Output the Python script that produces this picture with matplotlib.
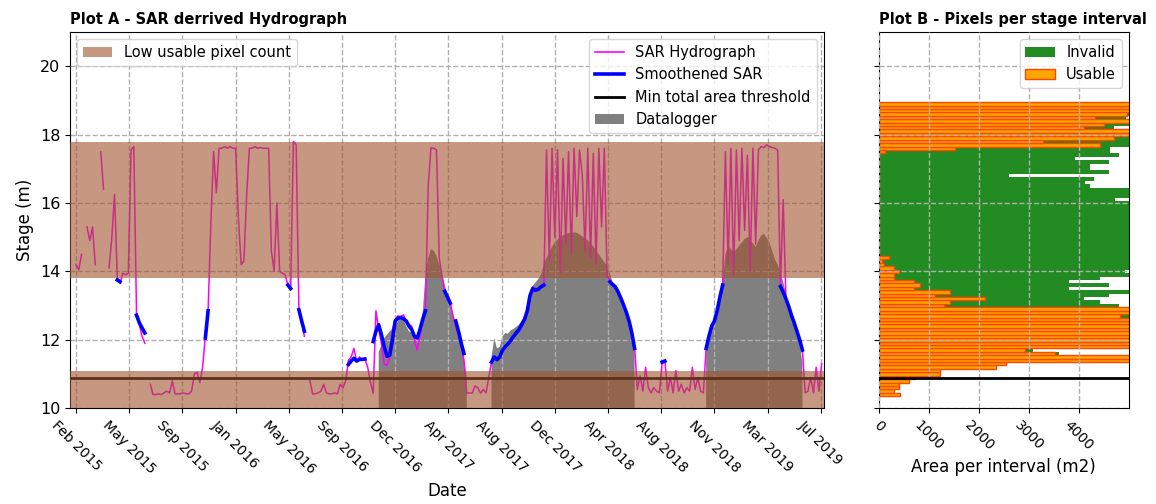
import numpy as np
import pandas as pd
import matplotlib
matplotlib.use("Agg")
import matplotlib.pyplot as plt
import matplotlib.dates as mdates
from matplotlib.lines import Line2D
from matplotlib.patches import Patch

nan = np.nan

# ---------------------------------------------------------------------------
# SAR acquisitions (6-day repeat cycle), stage in metres
# ---------------------------------------------------------------------------
sar_start = "2015-02-03"
sar_step_days = 6

sar_stage = [
    14.2, 14.05, 14.5, nan, 15.3, 14.9, 15.3, 14.2, nan, 17.5,
    16.4, nan, 14.1, 14.97, 16.25, 13.8, 13.65, 13.95, 13.9, 13.95,
    17.55, 17.65, 12.7, 12.45, 12.1, 11.9, nan, 10.7, 10.4, 10.4,
    10.42, 10.4, 10.45, 10.5, 10.45, 10.8, 10.42, 10.42, 10.42, 10.45,
    10.42, 10.42, 10.5, 11.0, 11.05, 10.75, 11.2, 12.1, 12.85, 15.4,
    17.5, 16.3, 17.6, 17.6, 17.65, 17.6, 17.65, 17.6, 17.6, 15.6,
    14.2, 14.3, 16.2, 17.6, 17.6, 17.65, 17.6, 17.62, 17.6, 17.6,
    17.6, 14.6, 14.0, 16.0, 14.0, 13.95, 13.9, 13.6, 13.45, 17.8,
    17.7, 12.9, 12.55, 12.1, nan, 10.8, 10.42, 10.42, 10.45, 10.5,
    10.7, 10.45, 10.42, 10.42, 10.45, 10.42, 10.7, 10.6, 10.8, 11.4,
    11.5, 11.75, 11.35, 11.5, 11.4, 11.45, 11.2, 10.75, 10.44, 12.85,
    12.3, 11.9, 11.3, 11.25, 11.5, 12.3, 12.6, 12.7, 12.68, 12.73,
    12.55, 12.45, 12.4, 12.0, 11.7, 12.1, 12.6, 12.9, 16.5, 17.62,
    17.6, 17.55, 14.4, 13.85, 13.45, 13.3, 13.1, 12.7, 12.4, 12.15,
    11.85, 11.4, 10.44, 10.45, 10.44, 10.65, 10.6, 10.44, 10.55, 10.45,
    10.9, 11.35, 11.5, 11.45, 11.5, 11.7, 11.8, 11.85, 12.0, 12.1,
    12.2, 12.3, 12.45, 12.6, 12.8, 13.3, 13.55, 13.4, 13.5, 13.55,
    13.6, 17.55, 14.3, 17.6, 15.0, 17.55, 13.95, 17.3, 14.8, 17.5,
    14.5, 17.6, 15.6, 17.55, 16.8, 14.6, 17.6, 14.4, 17.45, 14.2,
    17.6, 15.3, 17.6, 13.85, 13.75, 13.65, 13.5, 13.4, 13.2, 13.0,
    12.8, 12.55, 12.2, 11.8, 10.55, 10.95, 10.5, 11.2, 10.6, 10.45,
    10.6, 10.5, 10.45, 11.3, 11.4, 10.5, 10.9, 10.45, 11.1, 10.5,
    10.7, 10.45, 10.6, 10.5, 11.2, 10.55, 10.9, 10.5, 10.45, 11.75,
    12.1, 12.4, 12.55, 12.85, 13.2, 13.55, 17.5, 14.2, 17.6, 13.9,
    17.55, 14.9, 17.6, 15.2, 17.4, 14.0, 17.6, 14.8, 17.55, 17.65,
    17.62, 17.7, 17.65, 17.62, 17.6, 17.55, 13.55, 16.1, 13.2, 12.95,
    12.75, 12.5, 12.25, 12.0, 11.7, 10.45, 10.5, 10.9, 10.45, 11.2,
    10.5, 11.3,
]

# Smoothed SAR stage: (index of first acquisition, values)
smooth_segments = [
    (15, [13.75, 13.7]),
    (22, [12.72, 12.5, 12.35, 12.2]),
    (47, [12.05, 12.85]),
    (77, [13.6, 13.5]),
    (81, [12.88, 12.55, 12.25]),
    (99, [11.28, 11.38, 11.46, 11.38, 11.43, 11.43, 11.44]),
    (108, [11.95, 12.25, 12.44, 12.15, 11.8, 11.52, 11.55, 12.0, 12.55, 12.63,
           12.65, 12.62, 12.55, 12.4, 12.3, 12.1, 12.05, 12.3, 12.6, 12.85]),
    (134, [13.42, 13.25, 13.07]),
    (138, [12.55, 12.25, 11.9, 11.6]),
    (151, [11.35, 11.5, 11.42, 11.5, 11.7, 11.8, 11.88, 11.98, 12.1, 12.2,
           12.3, 12.45, 12.6, 12.85, 13.3, 13.5, 13.45, 13.48, 13.55, 13.6]),
    (194, [13.7, 13.62, 13.55, 13.4, 13.22, 13.02, 12.8, 12.55, 12.2, 11.75]),
    (213, [11.35, 11.38]),
    (229, [11.75, 12.1, 12.4, 12.55, 12.85, 13.25, 13.6]),
    (256, [13.56, 13.4, 13.2, 12.98, 12.72, 12.5, 12.25, 12.0, 11.7]),
]

# Datalogger stage sampled on the same dates: (index of first sample, values)
logger_segments = [
    (110, [11.65, 11.85, 12.05, 12.15, 12.25, 12.3, 12.4, 12.55, 12.65, 12.6,
           12.4, 12.25, 12.2, 12.05, 11.95, 12.2, 12.8, 13.9, 14.4, 14.65,
           14.6, 14.45, 14.2, 13.95, 13.6, 13.3, 13.05, 12.75, 12.5, 12.2,
           11.8, 11.4, 10.9]),
    (151, [11.5, 12.05, 11.75, 11.8, 12.1, 12.2, 12.18, 12.28, 12.32, 12.38,
           12.45, 12.55, 12.68, 12.85, 13.3, 13.58, 13.68, 13.78, 13.9, 14.2,
           14.4, 14.55, 14.72, 14.85, 14.93, 15.0, 15.05, 15.1, 15.12, 15.13,
           15.14, 15.13, 15.08, 15.03, 14.97, 14.9, 14.82, 14.73, 14.62, 14.5,
           14.38, 14.27, 14.15, 13.95, 13.68, 13.5, 13.33, 13.15, 12.9, 12.7,
           12.45, 12.1, 11.8]),
    (229, [11.8, 12.2, 12.35, 12.5, 12.75, 13.15, 13.7, 14.5, 14.75, 14.65,
           14.55, 14.65, 14.75, 14.85, 14.95, 15.0, 14.95, 14.82, 14.72, 14.9,
           15.05, 15.1, 14.98, 14.85, 14.6, 14.35, 14.2, 13.95, 13.7, 13.35,
           13.0, 12.75, 12.45, 12.2, 11.95, 11.3]),
]

# Stage bands with a low count of usable pixels, and the minimum-area threshold
low_bands = [(9.0, 11.08), (13.82, 17.78)]
min_area_threshold = 10.88

date_ticks = ["2015-02-03", "2015-05-30", "2015-09-23", "2016-01-17",
              "2016-05-12", "2016-09-05", "2016-12-30", "2017-04-25",
              "2017-08-19", "2017-12-13", "2018-04-08", "2018-08-02",
              "2018-11-26", "2019-03-22", "2019-07-16"]
date_limits = ["2015-01-21", "2019-07-23"]

# ---------------------------------------------------------------------------
# Pixels per 0.1 m stage interval (area in m2), bottom to top
# ---------------------------------------------------------------------------
stage_bins = np.round(np.arange(10.4, 18.95, 0.1), 1)

usable_area = [
    420, 300, 410, 410, 610, 720, 1220, 1220, 2340, 2540,
    5200, 5200, 3520, 2920, 5200, 5200, 5200, 5200, 5200, 5200,
    5200, 5200, 5200, 4820, 5200, 5200, 1300, 1420, 2120, 1120,
    1420, 700, 820, 700, 300, 300, 400, 300, 100, 60,
    210, 0, 0, 0, 0, 0, 0, 0, 0, 0,
    0, 0, 0, 0, 0, 0, 0, 0, 0, 0,
    0, 0, 0, 0, 0, 0, 0, 0, 0, 0,
    0, 120, 1520, 4420, 3290, 4700, 5200, 5200, 4100, 4500,
    5200, 4320, 4950, 5200, 5200, 5200,
]

invalid_area = [
    0, 0, 0, 0, 0, 0, 0, 0, 0, 0,
    0, 0, 90, 170, 0, 0, 0, 0, 0, 0,
    0, 0, 0, 400, 0, 0, 3500, 3000, 1980, 3480,
    3780, 3100, 3780, 3100, 4120, 4900, 4520, 4900, 5100, 5140,
    4990, 5200, 5200, 5200, 5200, 5200, 5200, 5200, 5200, 5200,
    5200, 5200, 5200, 5200, 5200, 5200, 5200, 4720, 5200, 5200,
    5200, 4220, 4120, 4300, 2600, 4600, 4220, 4220, 4600, 3920,
    4800, 4500, 3100, 780, 1910, 500, 0, 0, 600, 700,
    0, 620, 250, 0, 0, 0,
]


def expand(segments, n):
    out = np.full(n, np.nan)
    for start, vals in segments:
        out[start:start + len(vals)] = vals
    return out


n_obs = len(sar_stage)
sar_dates = pd.Timestamp(sar_start) + pd.to_timedelta(np.arange(n_obs) * sar_step_days, unit="D")
sar = np.array(sar_stage, dtype=float)
smooth = expand(smooth_segments, n_obs)
logger = expand(logger_segments, n_obs)

band_color = "sienna"
band_alpha = 0.6
grid_kw = dict(color="#b0b0b0", linestyle="--", linewidth=1.0)

fig = plt.figure(figsize=(11.56, 5.04), dpi=100)
ax = fig.add_axes([0.0606, 0.19, 0.6522, 0.7466])
axb = fig.add_axes([0.760, 0.19, 0.2167, 0.7466], sharey=ax)

# ---------------------------- Plot A --------------------------------------
ax.fill_between(sar_dates, 9.0, logger, color="gray", linewidth=0, zorder=1)
ax.plot(sar_dates, sar, color="magenta", linewidth=1.1, zorder=2)
ax.plot(sar_dates, smooth, color="blue", linewidth=2.6, zorder=2.2)
ax.axhline(min_area_threshold, color="black", linewidth=2, zorder=2)
for lo, hi in low_bands:
    ax.axhspan(lo, hi, color=band_color, alpha=band_alpha, linewidth=0, zorder=3)

ax.grid(True, **grid_kw)
ax.set_ylim(10, 21)
ax.set_yticks([10, 12, 14, 16, 18, 20])
ax.set_xlim(pd.Timestamp(date_limits[0]), pd.Timestamp(date_limits[1]))
ax.set_xticks([pd.Timestamp(d) for d in date_ticks])
ax.xaxis.set_major_formatter(mdates.DateFormatter("%b %Y"))
plt.setp(ax.get_xticklabels(), rotation=-45, ha="center", fontsize=10)
plt.setp(ax.get_yticklabels(), fontsize=11.5)
ax.set_xlabel("Date", fontsize=12)
ax.set_ylabel("Stage (m)", fontsize=12)
ax.set_title("Plot A - SAR derrived Hydrograph", loc="left",
             fontweight="bold", fontsize=10.5)

band_handle = Patch(facecolor=band_color, alpha=band_alpha, label="Low usable pixel count")
leg1 = ax.legend(handles=[band_handle], loc="upper left", fontsize=10.5)
ax.add_artist(leg1)
handles = [
    Line2D([], [], color="magenta", linewidth=1.2, label="SAR Hydrograph"),
    Line2D([], [], color="blue", linewidth=2.6, label="Smoothened SAR"),
    Line2D([], [], color="black", linewidth=2, label="Min total area threshold"),
    Patch(facecolor="gray", label="Datalogger"),
]
ax.legend(handles=handles, loc="upper right", fontsize=10.5)

# ---------------------------- Plot B --------------------------------------
usable = np.array(usable_area, dtype=float)
invalid = np.array(invalid_area, dtype=float)
axb.barh(stage_bins, invalid, left=usable, height=0.1, color="forestgreen",
         linewidth=0, label="Invalid", zorder=1)
axb.barh(stage_bins, usable, height=0.1, color="orange", edgecolor="orangered",
         linewidth=1.0, label="Usable", zorder=1.1)
axb.axhline(min_area_threshold, color="black", linewidth=2, zorder=3)
axb.set_axisbelow(False)
axb.grid(True, **grid_kw)
axb.set_xlim(0, 5000)
axb.set_xticks([0, 1000, 2000, 3000, 4000])
plt.setp(axb.get_xticklabels(), rotation=-45, ha="center", fontsize=10)
plt.setp(axb.get_yticklabels(), visible=False)
axb.set_xlabel("Area per interval (m2)", fontsize=12)
axb.set_title("Plot B - Pixels per stage interval", loc="left",
              fontweight="bold", fontsize=10.5)
axb.legend(loc="upper right", fontsize=10.5)

fig.savefig("out.png", dpi=100)
